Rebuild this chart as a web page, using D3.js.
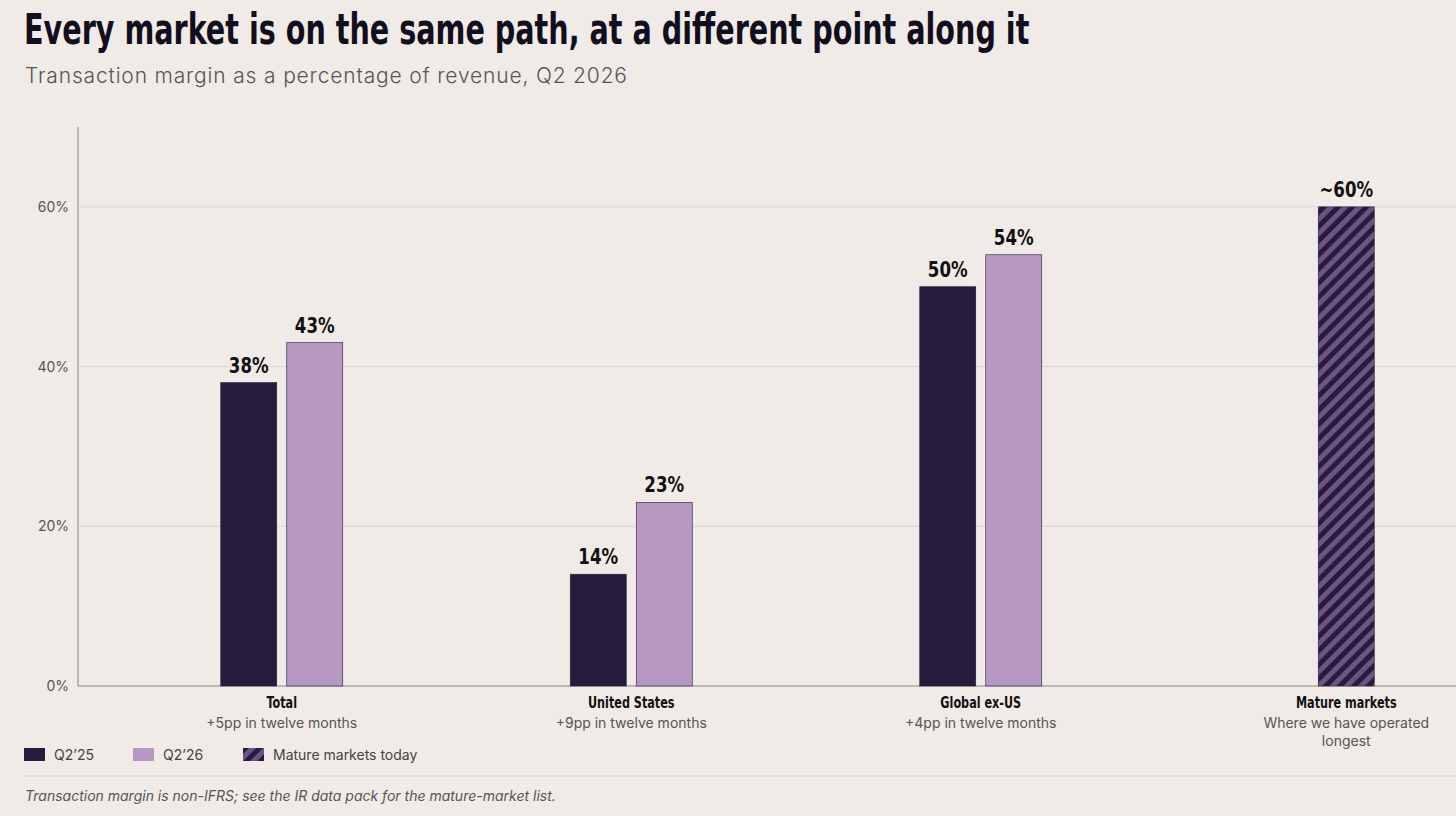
<!DOCTYPE html><html><head><meta charset="utf-8"><script src="https://cdn.jsdelivr.net/npm/d3@7"></script>
<style>body{margin:0;background:#f0ebe6;font-family:Inter,"Open Sans",sans-serif}</style></head><body><svg id="c" width="1456" height="816"></svg>
<script>
const categories=["Total","United States","Global ex-US","Mature markets"];
const subtitles=[["+5pp in twelve months"],["+9pp in twelve months"],["+4pp in twelve months"],["Where we have operated","longest"]];
const q225=[38,14,50,null];
const q226=[43,23,54,null];
const mature=[null,null,null,60];
const yTicks=[0,20,40,60];
const svg=d3.select("#c");
const dark="#261c3e",light="#b698c2";
const defs=svg.append("defs");
const pat=defs.append("pattern").attr("id","h").attr("patternUnits","userSpaceOnUse").attr("width",10).attr("height",10).attr("patternTransform","rotate(45)");
pat.append("rect").attr("width",10).attr("height",10).attr("fill","#6e5384");
pat.append("rect").attr("width",5).attr("height",10).attr("fill",dark);
const cond='"DejaVu Sans Condensed",sans-serif';
function ctext(g,x0,y0,s,t,size,anchor){return g.append("text").attr("transform",`translate(${x0},${y0}) scale(${s},1)`).attr("text-anchor",anchor||"start").attr("font-family",cond).attr("font-weight",700).attr("font-size",size).attr("fill","#111").text(t);}
ctext(svg,24,44,0.758,"Every market is on the same path, at a different point along it",42).attr("fill","#120e1e");
svg.append("text").attr("x",25).attr("y",83).text("Transaction margin as a percentage of revenue, Q2 2026").attr("font-size",21).attr("fill","#555").attr("font-weight",300).attr("textLength",602);
const y=d3.scaleLinear().domain([0,70]).range([686,127]);
const x=d3.scaleBand().domain(categories).range([107,1505]);
svg.append("g").selectAll("line").data(yTicks.filter(d=>d>0)).join("line").attr("x1",78).attr("x2",1456).attr("y1",y).attr("y2",y).attr("stroke","#ddd6d0");
svg.append("g").selectAll("text").data(yTicks).join("text").attr("x",69).attr("y",d=>y(d)+5).attr("text-anchor","end").attr("font-size",14).attr("fill","#555").text(d=>d+"%");
svg.append("line").attr("x1",78).attr("x2",78).attr("y1",127).attr("y2",686).attr("stroke","#888");
svg.append("line").attr("x1",78).attr("x2",1456).attr("y1",686).attr("y2",686).attr("stroke","#888");
const bw=56;
function bars(vals,off,fill,lab){
 const d=categories.map((c,i)=>({c,v:vals[i]})).filter(d=>d.v!=null);
 const cx=c=>x(c)+x.bandwidth()/2+off;
 svg.append("g").selectAll("rect").data(d).join("rect").attr("x",d=>cx(d.c)-bw/2).attr("width",bw).attr("y",d=>y(d.v)).attr("height",d=>686-y(d.v)).attr("fill",fill).attr("stroke",dark).attr("stroke-width",0.6);
 d.forEach(e=>ctext(svg,cx(e.c),y(e.v)-10,0.88,lab+e.v+"%",21,"middle"));
}
bars(q225,-33,dark,"");bars(q226,33,light,"");bars(mature,16,"url(#h)","~");
categories.forEach((c,i)=>{const cx=x(c)+x.bandwidth()/2+(i==3?16:0);
 ctext(svg,cx,708,0.78,c,16,"middle");
 subtitles[i].forEach((s,j)=>svg.append("text").attr("x",cx).attr("y",728+j*18).attr("text-anchor","middle").attr("font-size",14).attr("fill","#555").text(s));});
const leg=[["Q2’25",dark,24],["Q2’26",light,133],["Mature markets today","url(#h)",243]];
leg.forEach(([t,f,lx])=>{svg.append("rect").attr("x",lx).attr("y",748).attr("width",21).attr("height",13).attr("fill",f);
 svg.append("text").attr("x",lx+30).attr("y",760).attr("font-size",14).attr("fill","#444").text(t);});
svg.append("line").attr("x1",24).attr("x2",1456).attr("y1",776).attr("y2",776).attr("stroke","#d3ccc6");
svg.append("text").attr("x",25).attr("y",801).attr("font-size",14).attr("font-style","italic").attr("fill","#555").text("Transaction margin is non-IFRS; see the IR data pack for the mature-market list.");
</script></body></html>
